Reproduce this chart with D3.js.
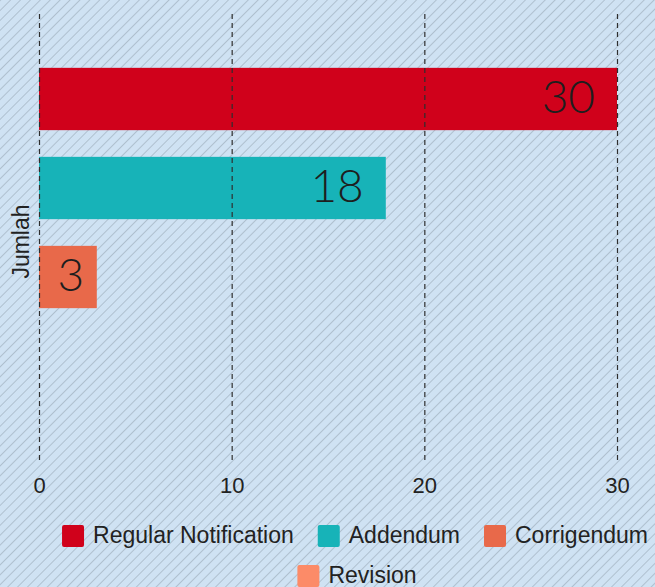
<!DOCTYPE html>
<html><head><meta charset="utf-8">
<script src="https://cdn.jsdelivr.net/npm/d3@7"></script>
<style>body{margin:0;padding:0;overflow:hidden}svg{display:block}</style>
</head><body>
<svg id="c" width="655" height="587"></svg>
<script>
const categories = ["Jumlah"];
const seriesNames = ["Regular Notification", "Addendum", "Corrigendum", "Revision"];
const seriesValues = [30, 18, 3, 0];
const seriesColors = ["#d0011b", "#17b3b8", "#e8694a", "#fc8b68"];
const xTicks = [0, 10, 20, 30];

const W = 655, H = 587;
const svg = d3.select("#c");
const defs = svg.append("defs");
const pat = defs.append("pattern").attr("id","stripes").attr("patternUnits","userSpaceOnUse")
  .attr("width",7).attr("height",7).attr("patternTransform","rotate(45)");
pat.append("rect").attr("width",7).attr("height",7).attr("fill","#cfe2f3");
pat.append("line").attr("x1",0).attr("y1",0).attr("x2",0).attr("y2",7)
  .attr("stroke","#a7b7c6").attr("stroke-width",1.6);
svg.append("rect").attr("width",W).attr("height",H).attr("fill","url(#stripes)");

const x = d3.scaleLinear().domain([0,30]).range([39,617]);
const y0 = d3.scaleBand().domain(categories).range([5,460]).paddingOuter(0.139).paddingInner(0);
const y1 = d3.scaleBand().domain(seriesNames).range([0,y0.bandwidth()]).paddingInner(0.3).paddingOuter(0.15);

const rows = seriesNames.map((s,i)=>({cat:categories[0], s, v:seriesValues[i], c:seriesColors[i]}));

const g = svg.append("g");
g.selectAll("rect.bar").data(rows).join("rect").attr("class","bar")
  .attr("x", x(0)).attr("y", d=>y0(d.cat)+y1(d.s))
  .attr("width", d=>x(d.v)-x(0)).attr("height", y1.bandwidth())
  .attr("fill", d=>d.c);

// gridlines
const grid = d3.axisBottom(x).tickValues(xTicks).tickSize(-(460-14)).tickFormat("");
const gg = svg.append("g").attr("transform","translate(0,460)").call(grid);
gg.select(".domain").remove();
gg.selectAll("line").attr("stroke","#2e2e2e").attr("stroke-width",1.2).attr("stroke-dasharray","5,4");

// value labels
g.selectAll("text.val").data(rows.filter(d=>d.v>0)).join("text").attr("class","val")
  .attr("x", d=> (x(d.v)-x(0))<100 ? (x(0)+x(d.v))/2 + 3 : x(d.v)-22)
  .attr("text-anchor", d=> (x(d.v)-x(0))<100 ? "middle" : "end")
  .attr("y", d=>y0(d.cat)+y1(d.s)+y1.bandwidth()/2)
  .attr("dy","0.31em")
  .attr("font-family","Lato, sans-serif").attr("font-weight",300).attr("font-size",46)
  .attr("fill","#1e1e1e").text(d=>d.v);

// x tick labels
const ax = d3.axisBottom(x).tickValues(xTicks).tickSize(0).tickPadding(0);
const axg = svg.append("g").attr("transform","translate(0,493)").call(ax);
axg.select(".domain").remove();
axg.selectAll("text").attr("dy",0).attr("y",0).attr("font-family","'Liberation Sans', Arial, sans-serif")
  .attr("font-size",22).attr("fill","#222");

// y label
svg.append("text").attr("transform","translate(29,"+(y0("Jumlah")+ 0.5*y0.bandwidth()+9)+") rotate(-90)")
  .attr("text-anchor","middle").attr("font-family","'Liberation Sans', Arial, sans-serif")
  .attr("font-size",23).attr("fill","#222").text(categories[0]);

// legend
const lg = svg.append("g");
const fontL = "'Liberation Sans', Arial, sans-serif";
function legendRow(items, yBase, cx){
  const rg = lg.append("g");
  let xo = 0;
  items.forEach(it=>{
    const t = rg.append("text").attr("font-family",fontL).attr("font-size",23).attr("fill","#222")
      .attr("y", yBase).text(it.s);
    const w = t.node().getComputedTextLength();
    rg.append("rect").attr("x",xo).attr("y",yBase-18).attr("width",22).attr("height",22).attr("rx",2).attr("fill",it.c);
    t.attr("x", xo+31);
    xo += 31 + w + 24;
  });
  const total = xo - 24;
  rg.attr("transform","translate("+(cx-total/2)+",0)");
}
const li = seriesNames.map((s,i)=>({s, c:seriesColors[i]}));
legendRow(li.slice(0,3), 543, 355);
legendRow(li.slice(3), 583, 357);
</script>
</body></html>
